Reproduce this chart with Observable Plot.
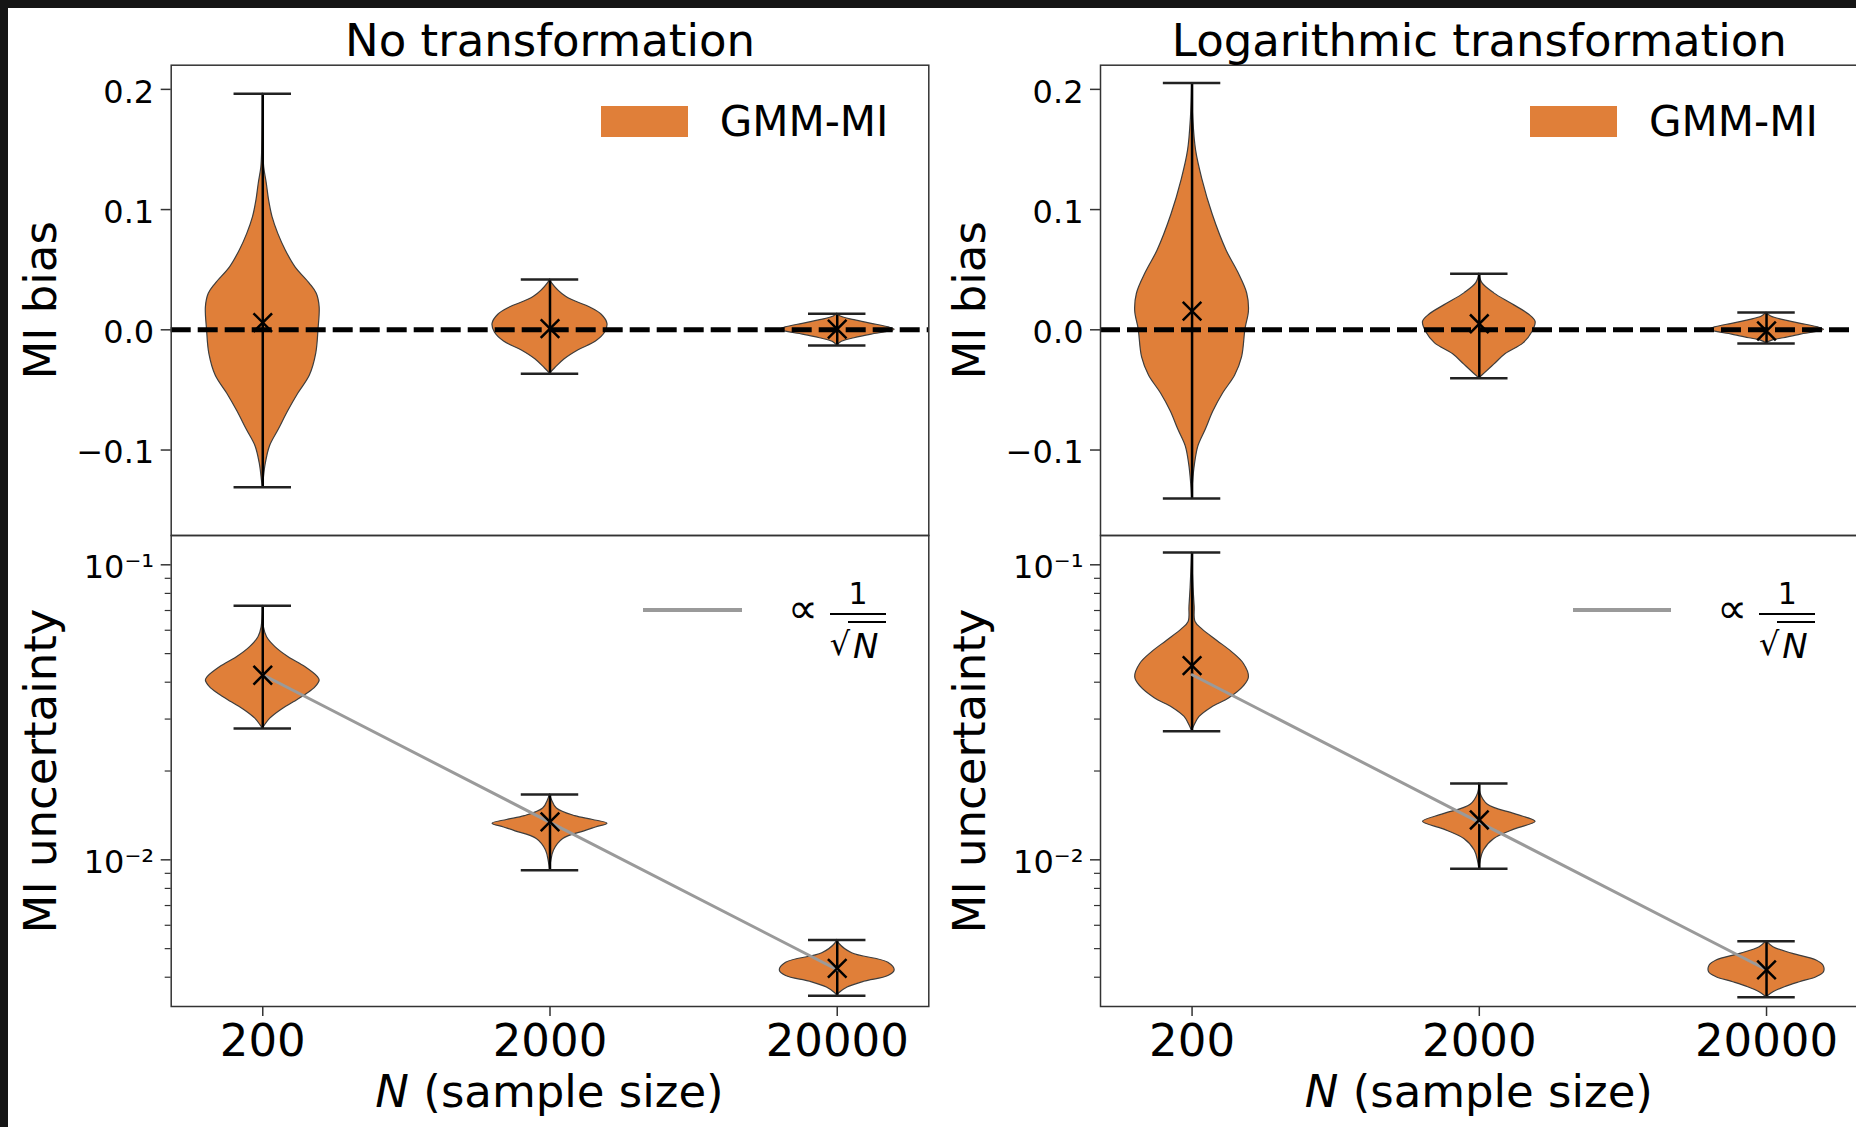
<!DOCTYPE html>
<html><head><meta charset="utf-8">
<script src="https://cdn.jsdelivr.net/npm/d3@7"></script>
<script src="https://cdn.jsdelivr.net/npm/@observablehq/plot@0.6"></script>
<style>
html,body{margin:0;padding:0;overflow:hidden;background:#fff;width:1856px;height:1127px;}
body{position:relative;font-family:"DejaVu Sans",sans-serif;}
.layer{position:absolute;left:0;top:0;width:1860px;height:1127px;}
.layer svg{max-width:none !important;display:block;}
.dark{position:absolute;background:#151515;z-index:10;}
.txt{position:absolute;white-space:nowrap;color:#000;line-height:1;font-family:"DejaVu Sans",sans-serif;}
.sw{position:absolute;}
</style></head><body>
<script>
// ---------------- data ----------------
const N = [200, 2000, 20000];
const nLabels = ["200", "2000", "20000"];
const titles = ["No transformation", "Logarithmic transformation"];
const yLabels = ["MI bias", "MI uncertainty"];
const legendViolin = "GMM-MI";
const biasTicks = [-0.1, 0, 0.1, 0.2];
const uncTicks = [0.01, 0.1];
const uncMinorTicks = [0.004, 0.005, 0.006, 0.007, 0.008, 0.009, 0.02, 0.03, 0.04, 0.05, 0.06, 0.07, 0.08, 0.09];

// violin profiles: [value, relative half-width]
const biasNone200 = [[0.1964,0],[0.150,0.01],[0.135,0.025],[0.1215,0.07],[0.1076,0.11],[0.0937,0.17],[0.0798,0.27],[0.066,0.40],[0.052,0.57],[0.0383,0.82],[0.030,0.94],[0.0188,0.99],[0.0,0.97],[-0.020,0.93],[-0.038,0.82],[-0.053,0.62],[-0.068,0.44],[-0.083,0.28],[-0.097,0.125],[-0.112,0.05],[-0.125,0.015],[-0.131,0]];
const biasNone2000 = [[0.0419,0],[0.039,0.03],[0.0274,0.28],[0.0185,0.70],[0.0125,0.90],[0.005,1.0],[-0.0023,0.96],[-0.0098,0.80],[-0.0172,0.49],[-0.0247,0.25],[-0.032,0.09],[-0.0365,0]];
const biasNone20000 = [[0.0134,0],[0.011,0.06],[0.008,0.3],[0.005,0.6],[0.002,0.9],[0.0,1.0],[-0.002,0.85],[-0.004,0.6],[-0.007,0.3],[-0.010,0.08],[-0.0131,0]];
const biasLog200 = [[0.2053,0],[0.176,0.02],[0.149,0.07],[0.125,0.18],[0.0957,0.36],[0.066,0.60],[0.048,0.80],[0.030,0.96],[0.0155,0.99],[0.0006,0.93],[-0.023,0.87],[-0.038,0.75],[-0.053,0.54],[-0.068,0.37],[-0.083,0.24],[-0.097,0.11],[-0.112,0.05],[-0.128,0.015],[-0.1403,0]];
const biasLog2000 = [[0.0467,0],[0.039,0.05],[0.0303,0.26],[0.0214,0.57],[0.0125,0.87],[0.0066,0.98],[-0.0023,0.92],[-0.0113,0.77],[-0.0202,0.46],[-0.029,0.26],[-0.0365,0.09],[-0.0404,0]];
const biasLog20000 = [[0.0143,0],[0.011,0.08],[0.008,0.3],[0.005,0.6],[0.002,0.9],[0.0,1.0],[-0.002,0.85],[-0.004,0.6],[-0.007,0.3],[-0.009,0.1],[-0.0113,0]];
const uncNone200 = [[0.0726,0],[0.0614,0.02],[0.0568,0.075],[0.0526,0.22],[0.0486,0.45],[0.0450,0.74],[0.0416,0.96],[0.0405,0.99],[0.0385,0.92],[0.0365,0.77],[0.0342,0.54],[0.0321,0.31],[0.0301,0.13],[0.0285,0.035],[0.02786,0]];
const uncNone2000 = [[0.01666,0],[0.0160,0.03],[0.01492,0.12],[0.01406,0.44],[0.01365,0.75],[0.01326,1.0],[0.01287,0.80],[0.01249,0.6],[0.01176,0.23],[0.01076,0.07],[0.00985,0.02],[0.00922,0]];
const uncNone20000 = [[0.005352,0],[0.005195,0.035],[0.004824,0.26],[0.004478,0.89],[0.004221,1.0],[0.004037,0.89],[0.003862,0.47],[0.003691,0.18],[0.003529,0.035],[0.003459,0]];
const uncLog200 = [[0.110,0],[0.0837,0.025],[0.0721,0.045],[0.0640,0.06],[0.0604,0.18],[0.0552,0.44],[0.0505,0.70],[0.0462,0.90],[0.0416,0.99],[0.0387,0.90],[0.0353,0.65],[0.0328,0.34],[0.0305,0.13],[0.0283,0.035],[0.02729,0]];
const uncLog2000 = [[0.01816,0],[0.0168,0.02],[0.01537,0.15],[0.01428,0.62],[0.01345,0.98],[0.01268,0.62],[0.01176,0.26],[0.01076,0.08],[0.00985,0.02],[0.00933,0]];
const uncLog20000 = [[0.005298,0],[0.005054,0.12],[0.0048,0.46],[0.004557,0.87],[0.004382,0.99],[0.004159,1.0],[0.004,0.87],[0.003847,0.58],[0.0037,0.32],[0.003557,0.12],[0.00342,0]];

// extrema and means
const biasNoneMin = [-0.131, -0.0365, -0.0131];
const biasNoneMax = [0.1964, 0.0419, 0.0134];
const biasNoneMean = [0.006, 0.001, 0.0006];
const biasLogMin = [-0.1403, -0.0404, -0.0113];
const biasLogMax = [0.2053, 0.0467, 0.0143];
const biasLogMean = [0.0155, 0.005, -0.001];
const uncNoneMin = [0.02786, 0.00922, 0.003459];
const uncNoneMax = [0.0726, 0.01666, 0.005352];
const uncNoneMean = [0.04224, 0.01345, 0.004285];
const uncLogMin = [0.02729, 0.00933, 0.00342];
const uncLogMax = [0.110, 0.01816, 0.005298];
const uncLogMean = [0.0455, 0.01365, 0.004237];
// 1/sqrt(N) reference line values
const refLine = [0.0424, 0.0134, 0.00424];

// ---------------- layout / style ----------------
const W = 1860, H = 1127;
const PANEL_W = 757.6;
const LEFTS = [170.7, 1100];
const TOP0 = 64.7, MID = 535, BOT = 1006;
const PAD_DEC = 0.3188;
const X_DOMAIN = [200 / 10 ** PAD_DEC, 20000 * 10 ** PAD_DEC];
const HALF = 0.2, CAP = 0.1;
const ORANGE = "#e07f39", EDGE = "#3d3d3d", AX = "#333";
const fmtBias = d3.format(".1f");
const fmtUnc = d => d === 0.1 ? "10\u207B\u00B9" : "10\u207B\u00B2";

function panel(o) {
  const idx = [0, 1, 2];
  const marks = [];
  o.violins.forEach((prof, i) => {
    marks.push(Plot.areaX(prof, {
      y: d => d[0],
      x1: d => N[i] / 10 ** (HALF * d[1]),
      x2: d => N[i] * 10 ** (HALF * d[1]),
      fill: ORANGE, stroke: EDGE, strokeWidth: 1.2, curve: "catmull-rom"
    }));
  });
  if (o.zero) marks.push(Plot.ruleY([0], {stroke: "black", strokeWidth: 5, strokeDasharray: "20,7"}));
  marks.push(Plot.ruleX(idx, {x: i => N[i], y1: i => o.mins[i], y2: i => o.maxs[i], stroke: "black", strokeWidth: 2.5}));
  marks.push(Plot.ruleY(idx, {y: i => o.maxs[i], x1: i => N[i] / 10 ** CAP, x2: i => N[i] * 10 ** CAP, stroke: "#222", strokeWidth: 2.5}));
  marks.push(Plot.ruleY(idx, {y: i => o.mins[i], x1: i => N[i] / 10 ** CAP, x2: i => N[i] * 10 ** CAP, stroke: "#222", strokeWidth: 2.5}));
  if (o.ref) marks.push(Plot.line(idx, {x: i => N[i], y: i => o.ref[i], stroke: "#9a9a9a", strokeWidth: 3}));
  marks.push(Plot.dot(idx, {x: i => N[i], y: i => o.means[i], symbol: "times", r: 8.5, stroke: "black", strokeWidth: 2.5}));
  marks.push(Plot.frame({stroke: AX, strokeWidth: 1.5}));
  marks.push(Plot.axisY({ticks: o.yTicks, tickSize: 10, fill: "none", stroke: AX, strokeWidth: 1.5, label: null}));
  if (o.minor) marks.push(Plot.axisY({ticks: o.minor, tickSize: 6, fill: "none", stroke: AX, strokeWidth: 1.2, label: null}));
  marks.push(Plot.axisY({ticks: o.yTicks, tickFormat: o.yFmt, tickSize: 10, tickPadding: 7, stroke: "none", fill: "black", fontSize: 32, dy: 3, label: null}));
  if (o.xAxis) {
    marks.push(Plot.axisX({ticks: N, tickFormat: d => nLabels[N.indexOf(d)], tickSize: 10, tickPadding: 8, stroke: AX, strokeWidth: 1.5, fill: "black", fontSize: 45, label: null}));
  }
  if (o.title) marks.push(Plot.text([o.title], {text: d => d, frameAnchor: "top", lineAnchor: "middle", textAnchor: "middle", dy: -24.1, fontSize: 45, fill: "black"}));
  marks.push(Plot.text([o.ylabel], {text: d => d, frameAnchor: "left", textAnchor: "middle", lineAnchor: "middle", rotate: -90, dx: -130.1, fontSize: 45, fill: "black"}));
  return Plot.plot({
    width: W, height: H,
    marginLeft: o.left, marginRight: W - o.left - PANEL_W,
    marginTop: o.top, marginBottom: H - o.bottom,
    x: {type: "log", domain: X_DOMAIN, axis: o.xAxis ? undefined : null},
    y: {type: o.yType, domain: o.yDomain},
    style: {background: "transparent", fontFamily: "DejaVu Sans", color: "black", overflow: "visible"},
    marks
  });
}

const panels = [
  {left: LEFTS[0], top: TOP0, bottom: MID, yType: "linear", yDomain: [-0.1711, 0.2201], yTicks: biasTicks, yFmt: fmtBias, zero: true,
   violins: [biasNone200, biasNone2000, biasNone20000], mins: biasNoneMin, maxs: biasNoneMax, means: biasNoneMean, title: titles[0], ylabel: yLabels[0]},
  {left: LEFTS[1], top: TOP0, bottom: MID, yType: "linear", yDomain: [-0.1711, 0.2201], yTicks: biasTicks, yFmt: fmtBias, zero: true,
   violins: [biasLog200, biasLog2000, biasLog20000], mins: biasLogMin, maxs: biasLogMax, means: biasLogMean, title: titles[1], ylabel: yLabels[0]},
  {left: LEFTS[0], top: MID, bottom: BOT, yType: "log", yDomain: [0.003183, 0.1257], yTicks: uncTicks, minor: uncMinorTicks, yFmt: fmtUnc, ref: refLine, xAxis: true,
   violins: [uncNone200, uncNone2000, uncNone20000], mins: uncNoneMin, maxs: uncNoneMax, means: uncNoneMean, ylabel: yLabels[1]},
  {left: LEFTS[1], top: MID, bottom: BOT, yType: "log", yDomain: [0.003183, 0.1257], yTicks: uncTicks, minor: uncMinorTicks, yFmt: fmtUnc, ref: refLine, xAxis: true,
   violins: [uncLog200, uncLog2000, uncLog20000], mins: uncLogMin, maxs: uncLogMax, means: uncLogMean, ylabel: yLabels[1]}
];

for (const p of panels) {
  const div = document.createElement("div");
  div.className = "layer";
  div.appendChild(panel(p));
  document.body.appendChild(div);
}

function addDiv(html, style, cls = "txt") {
  const d = document.createElement("div");
  d.className = cls;
  d.innerHTML = html;
  d.setAttribute("style", style);
  document.body.appendChild(d);
  return d;
}

for (const L of LEFTS) {
  const cx = L + PANEL_W / 2;
  // x label
  addDiv("<i>N</i> (sample size)", `left:${cx}px;top:1069px;font-size:45px;transform:translateX(-50%);`);
  // violin legend
  addDiv("", `left:${L + 430}px;top:106px;width:87px;height:31px;background:${ORANGE};`, "sw");
  addDiv(legendViolin, `left:${L + 549}px;top:101px;font-size:42px;`);
  // reference line legend
  addDiv("", `left:${L + 472.6}px;top:608.3px;width:98.4px;height:3.4px;background:#9a9a9a;`, "sw");
  addDiv("\u221D", `left:${L + 617}px;top:588px;font-size:42px;`);
  addDiv("1", `left:${L + 687.3}px;top:578.6px;font-size:30px;transform:translateX(-50%);`);
  addDiv("", `left:${L + 659.3}px;top:613px;width:56px;height:2px;background:#000;`, "sw");
  addDiv("\u221A", `left:${L + 659}px;top:628px;font-size:32px;`);
  addDiv("", `left:${L + 677}px;top:621px;width:38px;height:1.5px;background:#000;`, "sw");
  addDiv("<i>N</i>", `left:${L + 682.3}px;top:629.2px;font-size:34px;`);
}

addDiv("", "left:0;top:0;width:1856px;height:8px;", "dark");
addDiv("", "left:0;top:0;width:8px;height:1127px;", "dark");
</script></body></html>
